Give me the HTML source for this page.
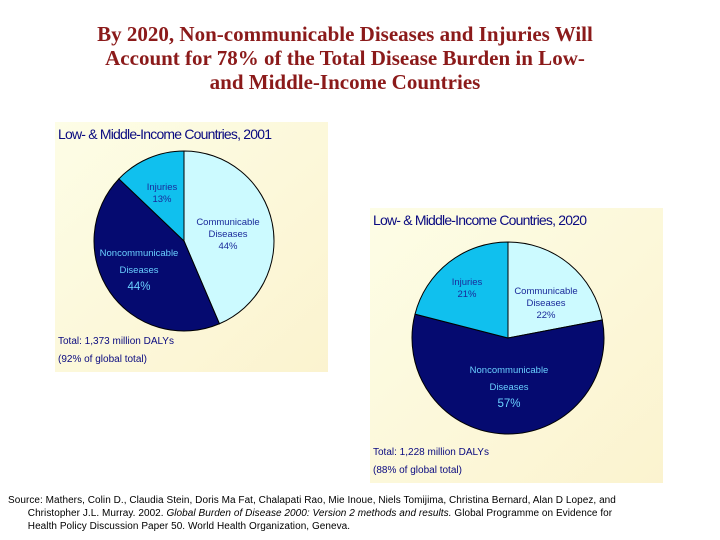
<!DOCTYPE html>
<html><head><meta charset="utf-8"><style>
body{margin:0;width:720px;height:540px;background:#fff;position:relative;overflow:hidden;font-family:"Liberation Sans",sans-serif}
.title{position:absolute;left:0;top:22px;width:690px;text-align:center;font-family:"Liberation Serif",serif;font-weight:bold;font-size:21px;line-height:24px;color:#8b1a1a}
.src{position:absolute;left:8px;top:494px;width:712px;font-size:10px;line-height:13px;color:#000;white-space:nowrap;letter-spacing:0.05px}
</style></head><body>
<div class="title">By 2020, Non-communicable Diseases and Injuries Will<br>Account for 78% of the Total Disease Burden in Low-<br>and Middle-Income Countries</div>
<svg id="chart" width="720" height="540" style="position:absolute;left:0;top:0">
<defs><linearGradient id="bg" x1="0" y1="0" x2="1" y2="1"><stop offset="0" stop-color="#fdfde6"/><stop offset="1" stop-color="#fbf3cf"/></linearGradient></defs>
</svg>
<div class="src">Source: Mathers, Colin D., Claudia Stein, Doris Ma Fat, Chalapati Rao, Mie Inoue, Niels Tomijima, Christina Bernard, Alan D Lopez, and<br>&nbsp;&nbsp;&nbsp;&nbsp;&nbsp;&nbsp;&nbsp;Christopher J.L. Murray. 2002. <i>Global Burden of Disease 2000: Version 2 methods and results.</i> Global Programme on Evidence for<br>&nbsp;&nbsp;&nbsp;&nbsp;&nbsp;&nbsp;&nbsp;Health Policy Discussion Paper 50. World Health Organization, Geneva.</div>
<script>
const categories=["Communicable Diseases","Noncommunicable Diseases","Injuries"];
const values2001=[44,44,13];
const values2020=[22,57,21];
const labels2001=["44%","44%","13%"];
const labels2020=["22%","57%","21%"];
const colors=["#ccfaff","#050a70","#10c0ee"];
const NS="http://www.w3.org/2000/svg";
const svg=document.getElementById('chart');
function mk(t,a,p){const e=document.createElementNS(NS,t);for(const k in a)e.setAttribute(k,a[k]);(p||svg).appendChild(e);return e;}
function txt(x,y,s,size,fill,anchor,name){const e=mk('text',{x:x,y:y,'font-size':size,fill:fill,'text-anchor':anchor||'middle','font-family':'Liberation Sans, sans-serif'});e.textContent=s;

return e;}
function panel(x,y,w,h,title,total,pct,cx,cy,r,vals,labs,lpos,name){
 const g=mk('g',{});
 
 
 mk('rect',{x:x,y:y,width:w,height:h,fill:'url(#bg)'},g);
 const t=txt(x+3,y+17,title,14,'#0a0a80','start','panel-title');t.setAttribute('letter-spacing','-0.8');g.appendChild(t);
 const sum=vals.reduce((a,b)=>a+b,0);let a0=0;
 vals.forEach((v,i)=>{const a1=a0+v/sum*2*Math.PI;
  const x0=cx+r*Math.sin(a0),y0=cy-r*Math.cos(a0),x1=cx+r*Math.sin(a1),y1=cy-r*Math.cos(a1);
  const p=mk('path',{d:`M${cx},${cy}L${x0},${y0}A${r},${r} 0 ${a1-a0>Math.PI?1:0} 1 ${x1},${y1}Z`,fill:colors[i],stroke:'#000','stroke-width':1},g);
  
  
  a0=a1;});
 const fc=['#1a2a9a','#6ad0ff','#1a2a9a'];
 categories.forEach((c,i)=>{const [lx,ly]=lpos[i];
  const words=i==2?['Injuries']:[i==0?'Communicable':'Noncommunicable','Diseases'];
  words.forEach((w,j)=>g.appendChild(txt(lx,ly+j*(i==1?17:12),w,9.5,fc[i],'middle','slice-label')));
  g.appendChild(txt(lx,ly+words.length*(i==1?17:12),labs[i],i==1?11.5:9.5,fc[i],'middle','slice-value'));});
 g.appendChild(txt(x+3,y+h-28,total,10,'#0a0a80','start','total-label'));
 g.appendChild(txt(x+3,y+h-10,pct,10,'#0a0a80','start','share-label'));
}
panel(55,122,273,250,'Low- & Middle-Income Countries, 2001','Total: 1,373 million DALYs','(92% of global total)',184,241,90,values2001,labels2001,[[228,225],[139,256],[162,190]],'panel-2001');
panel(370,208,293,275,'Low- & Middle-Income Countries, 2020','Total: 1,228 million DALYs','(88% of global total)',508,338,96,values2020,labels2020,[[546,294],[509,373],[467,285]],'panel-2020');
</script>
</body></html>
